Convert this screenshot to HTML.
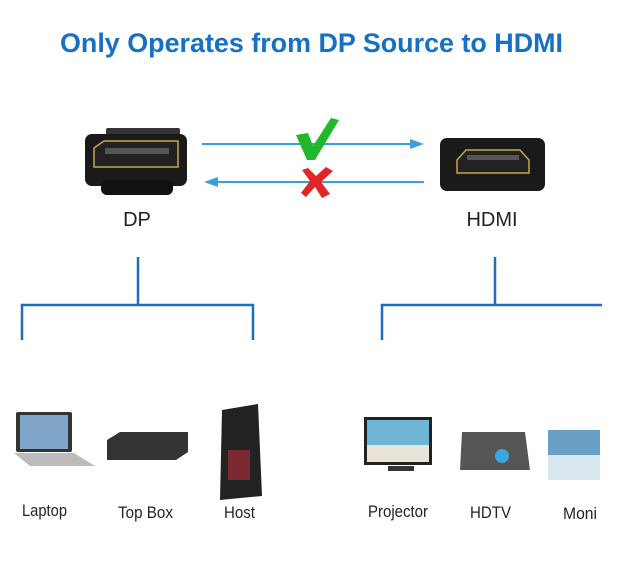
<!DOCTYPE html>
<html><head><meta charset="utf-8"><style>html,body{margin:0;padding:0;background:#fff;width:620px;height:579px;overflow:hidden}</style></head>
<body>
<svg width="620" height="579" viewBox="0 0 620 579" xmlns="http://www.w3.org/2000/svg" font-family="Liberation Sans, sans-serif">
<text x="60" y="52" font-size="27" font-weight="bold" fill="#1670c4" textLength="503" lengthAdjust="spacingAndGlyphs">Only Operates from DP Source to HDMI</text>
<rect x="106" y="128" width="74" height="10" rx="2" fill="#333"/>
<rect x="85" y="134" width="102" height="52" rx="7" fill="#1a1a1a"/>
<rect x="101" y="180" width="72" height="15" rx="6" fill="#111"/>
<path d="M94 148 L104 141 L178 141 L178 167 L94 167 Z" fill="#222" stroke="#c9a44a" stroke-width="1.5"/>
<rect x="105" y="148" width="64" height="6" fill="#555"/>
<rect x="440" y="138" width="105" height="53" rx="7" fill="#1a1a1a"/>
<path d="M457 160 L466 150 L520 150 L529 160 L529 173 L457 173 Z" fill="#222" stroke="#c9a44a" stroke-width="1.5"/>
<rect x="467" y="155" width="52" height="5" fill="#555"/>
<line x1="202" y1="144" x2="416" y2="144" stroke="#3aa0d6" stroke-width="2"/>
<polygon points="424,144 410,139 410,149" fill="#3aa0d6"/>
<line x1="212" y1="182" x2="424" y2="182" stroke="#3aa0d6" stroke-width="2"/>
<polygon points="204,182 218,177 218,187" fill="#3aa0d6"/>
<path d="M296 135 L308 133 L313 146 L331 118 L339 120 L315 160 L307 160 Z" fill="#1fb82a"/>
<path d="M302 170 L308 168 L316 176 L326 167 L333 171 L321 182 L330 194 L322 198 L315 187 L306 197 L301 193 L310 181 Z" fill="#e02626"/>
<text x="137" y="226" font-size="20" text-anchor="middle" fill="#222">DP</text>
<text x="492" y="226" font-size="20" text-anchor="middle" fill="#222">HDMI</text>
<g stroke="#1e6fb8" stroke-width="2.5" fill="none">
<path d="M138 257 V305 M22 340 V305 H253 V340"/>
<path d="M495 257 V305 M382 340 V305 H602"/>
</g>
<rect x="16" y="412" width="56" height="40" rx="2" fill="#333"/>
<rect x="20" y="415" width="48" height="34" fill="#7fa6c8"/>
<path d="M14 453 L74 453 L95 466 L30 466 Z" fill="#bbb"/>
<path d="M107 440 L120 432 L188 432 L188 452 L176 460 L107 460 Z" fill="#333"/>
<path d="M222 410 L258 404 L262 496 L220 500 Z" fill="#222"/>
<rect x="228" y="450" width="22" height="30" fill="#7a2a30"/>
<rect x="364" y="417" width="68" height="48" fill="#222"/>
<rect x="367" y="420" width="62" height="42" fill="#6fb5d6"/>
<rect x="367" y="445" width="62" height="17" fill="#e8e4d8"/>
<rect x="388" y="466" width="26" height="5" fill="#333"/>
<path d="M462 432 L525 432 L530 470 L460 470 Z" fill="#555"/>
<circle cx="502" cy="456" r="7" fill="#3aa7e0"/>
<rect x="548" y="430" width="52" height="50" fill="#6a9fc6"/>
<rect x="548" y="455" width="52" height="25" fill="#d8e6ee"/>
<g font-size="17" fill="#222" lengthAdjust="spacingAndGlyphs">
<text x="22" y="516" textLength="45" lengthAdjust="spacingAndGlyphs">Laptop</text>
<text x="118" y="518" textLength="55" lengthAdjust="spacingAndGlyphs">Top Box</text>
<text x="224" y="518" textLength="31" lengthAdjust="spacingAndGlyphs">Host</text>
<text x="368" y="517" textLength="60" lengthAdjust="spacingAndGlyphs">Projector</text>
<text x="470" y="518" textLength="41" lengthAdjust="spacingAndGlyphs">HDTV</text>
<text x="563" y="519" textLength="34" lengthAdjust="spacingAndGlyphs">Moni</text>
</g>
</svg>
</body></html>
